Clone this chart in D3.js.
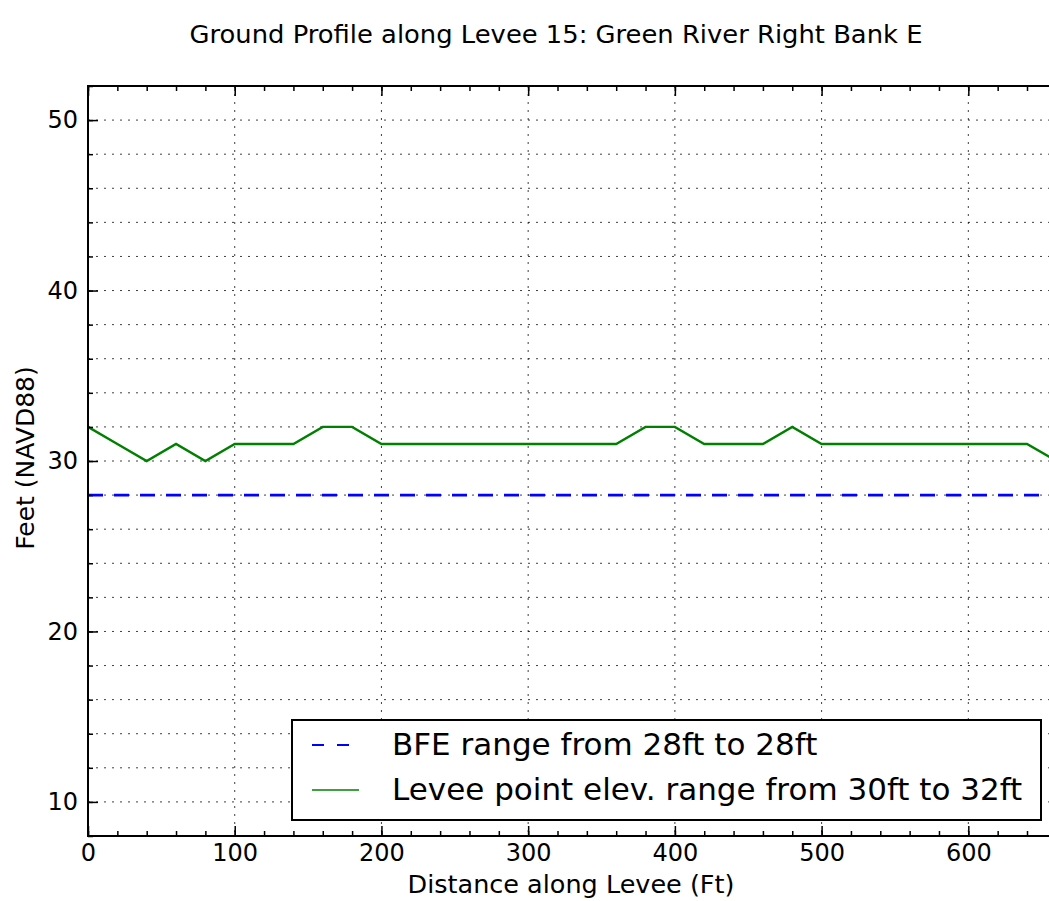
<!DOCTYPE html>
<meta charset="utf-8">
<style>
    body {
        margin: 0;
        background-color: #ffffff;
    }

    svg text {
        font-family: "DejaVu Sans", sans-serif;
        fill: #000;
    }

    .axis path {
        display: none;
    }

    .axis line {
        stroke: #000;
        stroke-width: 1.5px;
    }

    .grid line {
        stroke: #000;
        stroke-width: 1px;
        stroke-dasharray: 2, 6;
        opacity: 0.75;
    }
</style>

<body>
    <svg width="1049" height="901"></svg>
    <script src="https://d3js.org/d3.v7.min.js"></script>
    <script>
        // values
        var distance = [0, 20, 40, 60, 80, 100, 120, 140, 160, 180, 200, 220, 240, 260, 280, 300, 320, 340,
            360, 380, 400, 420, 440, 460, 480, 500, 520, 540, 560, 580, 600, 620, 640, 660];
        var elevation = [32, 31, 30, 31, 30, 31, 31, 31, 32, 32, 31, 31, 31, 31, 31, 31, 31, 31,
            31, 32, 32, 31, 31, 31, 32, 31, 31, 31, 31, 31, 31, 31, 31, 30];
        var bfeDistance = [0, 660];
        var bfeElevation = [28, 28];
        var xTicks = [0, 100, 200, 300, 400, 500, 600];
        var yTicks = [10, 20, 30, 40, 50];

        var title = "Ground Profile along Levee 15: Green River Right Bank E";
        var xLabel = "Distance along Levee (Ft)";
        var yLabel = "Feet (NAVD88)";

        var svg = d3.select("svg"),
            margin = {
                top: 86,
                left: 88,
                bottom: 836
            };

        var x = d3.scaleLinear().domain([0, 660]).range([margin.left, margin.left + 660 * 1.4672]),
            y = d3.scaleLinear().domain([8, 52]).range([margin.bottom, margin.top]);

        var xMinor = d3.range(0, 661, 20),
            yMinor = d3.range(8, 53, 2);

        // grid
        var grid = svg.append("g").attr("class", "grid");
        grid.selectAll(".hgrid")
            .data(yMinor)
            .enter().append("line")
            .attr("x1", x(0))
            .attr("x2", x(660))
            .attr("y1", function (d) { return y(d); })
            .attr("y2", function (d) { return y(d); });
        grid.selectAll(".vgrid")
            .data(xTicks)
            .enter().append("line")
            .attr("x1", function (d) { return x(d); })
            .attr("x2", function (d) { return x(d); })
            .attr("y1", y(52))
            .attr("y2", y(8));

        // series
        var bfe = bfeDistance.map(function (d, i) { return [d, bfeElevation[i]]; });
        var levee = distance.map(function (d, i) { return [d, elevation[i]]; });
        var line = d3.line()
            .x(function (d) { return x(d[0]); })
            .y(function (d) { return y(d[1]); });

        svg.append("path")
            .datum(bfe)
            .attr("d", line)
            .attr("fill", "none")
            .attr("stroke", "#0000ff")
            .attr("stroke-width", 2.8)
            .attr("stroke-dasharray", "15,11");

        svg.append("path")
            .datum(levee)
            .attr("d", line)
            .attr("fill", "none")
            .attr("stroke", "#008000")
            .attr("stroke-width", 2.4);

        // axes
        svg.append("g")
            .attr("class", "axis")
            .attr("transform", "translate(0," + margin.bottom + ")")
            .call(d3.axisBottom(x).tickValues(xTicks).tickSize(-10).tickPadding(8).tickFormat(d3.format("d")))
            .selectAll("text")
            .style("font-size", "24px")
            .attr("font-family", null);
        svg.append("g")
            .attr("class", "axis")
            .attr("transform", "translate(0," + margin.bottom + ")")
            .call(d3.axisBottom(x).tickValues(xMinor).tickSize(-5).tickFormat(""));
        svg.append("g")
            .attr("class", "axis")
            .attr("transform", "translate(0," + margin.top + ")")
            .call(d3.axisTop(x).tickValues(xTicks).tickSize(-10).tickFormat(""));
        svg.append("g")
            .attr("class", "axis")
            .attr("transform", "translate(0," + margin.top + ")")
            .call(d3.axisTop(x).tickValues(xMinor).tickSize(-5).tickFormat(""));
        svg.append("g")
            .attr("class", "axis")
            .attr("transform", "translate(" + margin.left + ",0)")
            .call(d3.axisLeft(y).tickValues(yTicks).tickSize(-10).tickPadding(10).tickFormat(d3.format("d")))
            .selectAll("text")
            .style("font-size", "24px")
            .attr("font-family", null);
        svg.append("g")
            .attr("class", "axis")
            .attr("transform", "translate(" + margin.left + ",0)")
            .call(d3.axisLeft(y).tickValues(yMinor).tickSize(-5).tickFormat(""));

        // spines (right one falls outside the page)
        svg.append("path")
            .attr("d", "M" + x(660) + "," + y(52) + "H" + x(0) + "V" + y(8) + "H" + x(660))
            .attr("fill", "none")
            .attr("stroke", "#000")
            .attr("stroke-width", 2);

        // legend
        var legendItems = [
            { label: "BFE range from " + d3.min(bfeElevation) + "ft to " + d3.max(bfeElevation) + "ft", color: "#0000ff", dash: "12,13", width: 2 },
            { label: "Levee point elev. range from " + d3.min(elevation) + "ft to " + d3.max(elevation) + "ft", color: "#008000", dash: null, width: 1.5 }
        ];
        var legend = svg.append("g").attr("transform", "translate(292,720)");
        legend.append("rect")
            .attr("width", 749)
            .attr("height", 100)
            .attr("fill", "#fff")
            .attr("stroke", "#000")
            .attr("stroke-width", 2);
        var item = legend.selectAll(".item")
            .data(legendItems)
            .enter().append("g")
            .attr("transform", function (d, i) { return "translate(0," + (25 + i * 45) + ")"; });
        item.append("line")
            .attr("x1", 20)
            .attr("x2", 67)
            .attr("stroke", function (d) { return d.color; })
            .attr("stroke-width", function (d) { return d.width; })
            .attr("stroke-dasharray", function (d) { return d.dash; });
        item.append("text")
            .attr("x", 100)
            .attr("y", 10)
            .style("font-size", "31px")
            .text(function (d) { return d.label; });

        // labels
        svg.append("text")
            .attr("x", 556)
            .attr("y", 43)
            .attr("text-anchor", "middle")
            .attr("textLength", 733)
            .attr("lengthAdjust", "spacingAndGlyphs")
            .style("font-size", "25.5px")
            .text(title);

        svg.append("text")
            .attr("x", 571)
            .attr("y", 893)
            .attr("text-anchor", "middle")
            .style("font-size", "25.5px")
            .text(xLabel);

        svg.append("text")
            .attr("transform", "translate(34,458) rotate(-90)")
            .attr("text-anchor", "middle")
            .style("font-size", "25px")
            .text(yLabel);
    </script>
</body>
